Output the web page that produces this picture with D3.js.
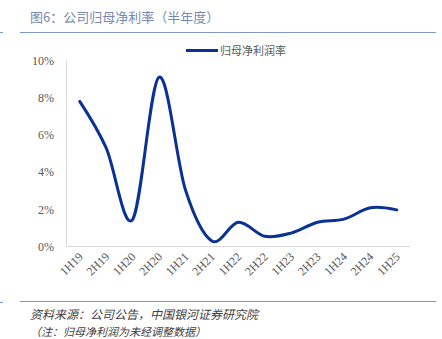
<!DOCTYPE html>
<html>
<head>
<meta charset="utf-8">
<script src="https://cdn.jsdelivr.net/npm/d3@7"></script>
<style>
  html, body { margin: 0; padding: 0; background: #fff; }
  svg { display: block; }
</style>
</head>
<body>
<svg id="chart" width="442" height="339"></svg>
<script>
// Half-year periods and net margin attributable to parent (%)
const periods = ["1H19", "2H19", "1H20", "2H20", "1H21", "2H21", "1H22", "2H22", "1H23", "2H23", "1H24", "2H24", "1H25"];
const netMargin = [7.8, 5.3, 1.45, 9.1, 3.05, 0.3, 1.3, 0.55, 0.72, 1.3, 1.47, 2.08, 1.97];
const yTicks = [0, 2, 4, 6, 8, 10];
const seriesName = "归母净利润率";
const titleText = "图6：公司归母净利率（半年度）";
const sourceText = "资料来源：公司公告，中国银河证券研究院";
const noteText = "（注：归母净利润为未经调整数据）";

const svg = d3.select("#chart");
const plot = { left: 66.5, right: 410, top: 60.5, bottom: 246.5 };
const blueRule = "#8097c9";

// Header
svg.append("text")
  .attr("x", 30).attr("y", 22)
  .attr("font-family", "'Noto Sans CJK SC', sans-serif")
  .attr("font-size", 13).attr("fill", "#7889ae")
  .text(titleText);
svg.append("line")
  .attr("x1", 20).attr("x2", 436).attr("y1", 32.5).attr("y2", 32.5)
  .attr("stroke", blueRule).attr("stroke-width", 1.2);
svg.append("line")
  .attr("x1", 0).attr("x2", 3).attr("y1", 32.5).attr("y2", 32.5)
  .attr("stroke", blueRule).attr("stroke-width", 1);

// Scales
const x = d3.scalePoint().domain(periods).range([plot.left, plot.right]).padding(0.5);
const y = d3.scaleLinear().domain([0, 10]).range([plot.bottom, plot.top]);

// Axis lines
svg.append("line")
  .attr("x1", plot.left).attr("x2", plot.left).attr("y1", plot.top).attr("y2", plot.bottom)
  .attr("stroke", "#d9d9d9");
svg.append("line")
  .attr("x1", plot.left).attr("x2", plot.right).attr("y1", plot.bottom).attr("y2", plot.bottom)
  .attr("stroke", "#d9d9d9");

// Y tick labels
svg.append("g").selectAll("text").data(yTicks).join("text")
  .attr("x", 54).attr("y", d => y(d)).attr("dy", "0.35em")
  .attr("text-anchor", "end")
  .attr("font-family", "'Liberation Serif', serif")
  .attr("font-size", 12).attr("fill", "#595959")
  .text(d => d + "%");

// X tick labels, rotated
svg.append("g").selectAll("text").data(periods).join("text")
  .attr("transform", d => `translate(${x(d) + 4},${plot.bottom + 11}) rotate(-45)`)
  .attr("text-anchor", "end")
  .attr("font-family", "'Liberation Serif', serif")
  .attr("font-size", 12).attr("fill", "#595959")
  .text(d => d);

// Smoothed line
const line = d3.line()
  .x((d, i) => x(periods[i]))
  .y(d => y(d))
  .curve(d3.curveCatmullRom.alpha(0));
svg.append("path")
  .datum(netMargin)
  .attr("d", line)
  .attr("fill", "none")
  .attr("stroke", "#0a3194")
  .attr("stroke-width", 3)
  .attr("stroke-linejoin", "round")
  .attr("stroke-linecap", "round");

// Legend
svg.append("line")
  .attr("x1", 186).attr("x2", 218).attr("y1", 50.5).attr("y2", 50.5)
  .attr("stroke", "#0a3194").attr("stroke-width", 3);
svg.append("text")
  .attr("x", 220).attr("y", 51).attr("dy", "0.35em")
  .attr("font-family", "'Noto Sans CJK SC', sans-serif")
  .attr("font-size", 11).attr("fill", "#595959")
  .text(seriesName);

// Footer
svg.append("line")
  .attr("x1", 20).attr("x2", 436).attr("y1", 301.5).attr("y2", 301.5)
  .attr("stroke", blueRule).attr("stroke-width", 1.2);
svg.append("line")
  .attr("x1", 0).attr("x2", 3).attr("y1", 302.5).attr("y2", 302.5)
  .attr("stroke", blueRule).attr("stroke-width", 1);
svg.append("text")
  .attr("x", 30).attr("y", 319)
  .attr("font-family", "'Noto Sans CJK SC', sans-serif")
  .attr("font-size", 12).attr("font-style", "italic").attr("fill", "#404040")
  .text(sourceText);
svg.append("text")
  .attr("x", 30).attr("y", 336)
  .attr("font-family", "'Noto Sans CJK SC', sans-serif")
  .attr("font-size", 11).attr("font-style", "italic").attr("fill", "#404040")
  .text(noteText);
</script>
</body>
</html>
